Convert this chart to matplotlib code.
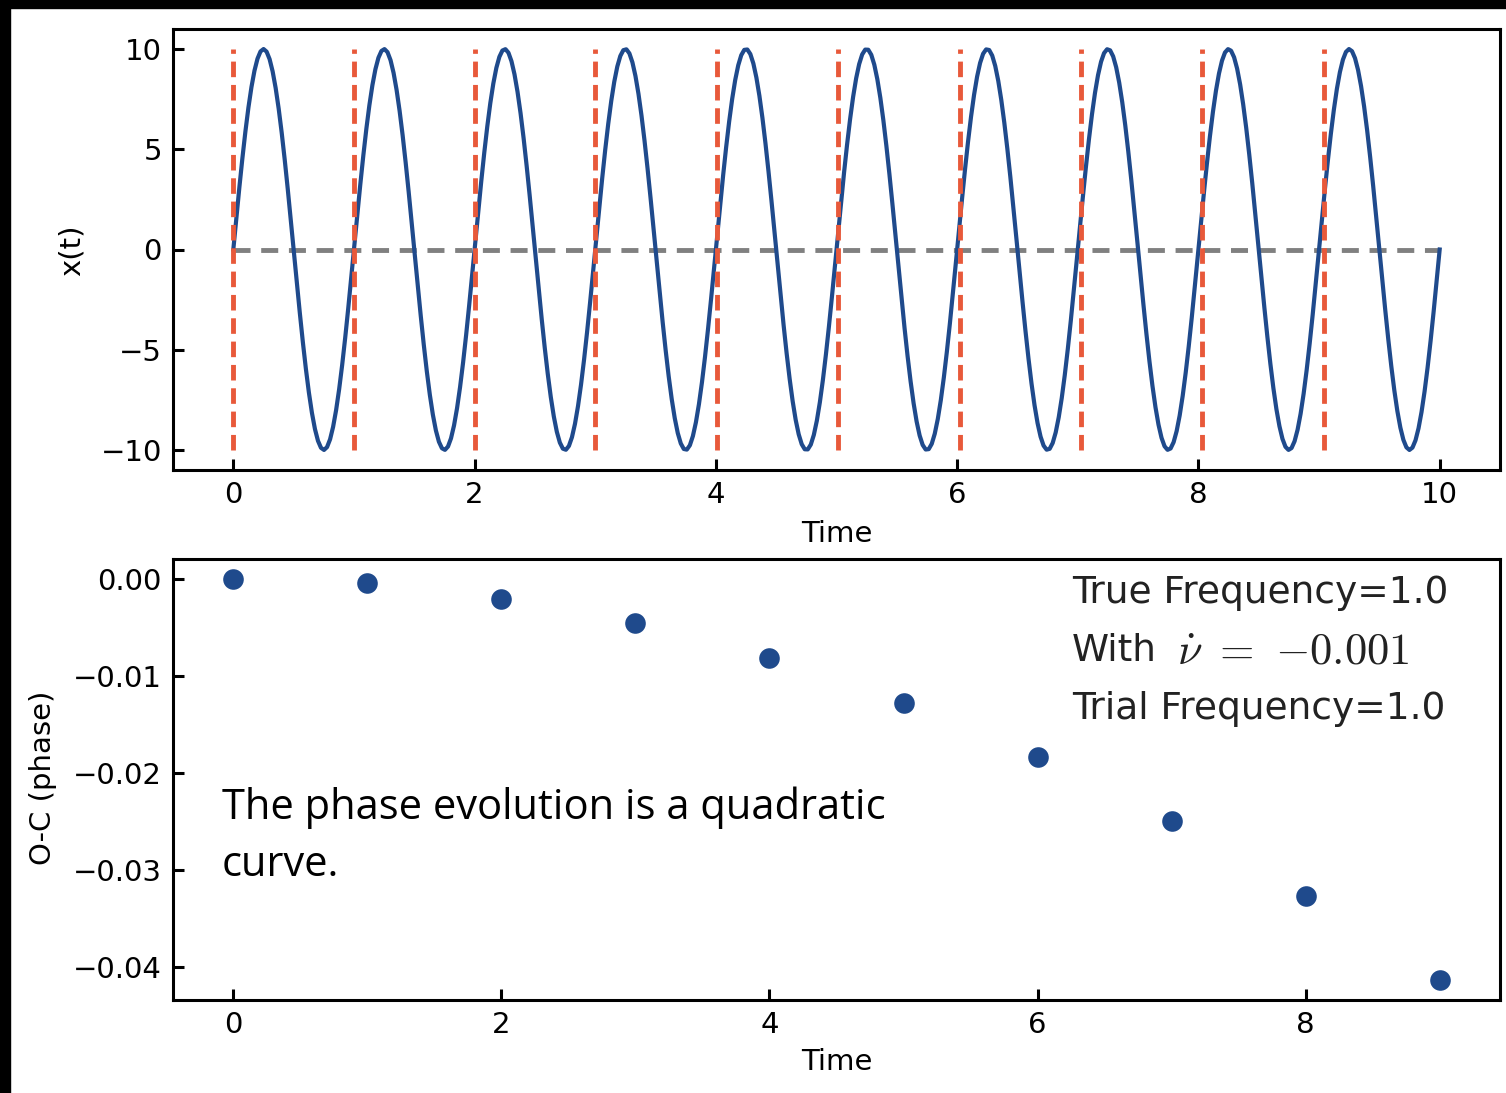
import numpy as np
import matplotlib
matplotlib.use("Agg")
import matplotlib.pyplot as plt
from matplotlib.patches import Rectangle

# ---- data ----
amplitude = 10.0
trial_freq = 1.0
t_start, t_end, n_samples = 0.0, 10.0, 400
crossing_times = [0.0, 1.0, 2.0, 3.0, 4.01, 5.01, 6.02, 7.03, 8.03, 9.04]
cycle_index = [0, 1, 2, 3, 4, 5, 6, 7, 8, 9]
oc_phase = [0.0, -0.00044, -0.00206, -0.00457, -0.00812, -0.01275,
            -0.01832, -0.02495, -0.03265, -0.04134]
top_xticks = [0, 2, 4, 6, 8, 10]
top_yticks = [-10, -5, 0, 5, 10]
bot_xticks = [0, 2, 4, 6, 8]
bot_yticks = [0.0, -0.01, -0.02, -0.03, -0.04]
bot_yticklabels = ["0.00", "\u22120.01", "\u22120.02", "\u22120.03", "\u22120.04"]

t = np.linspace(t_start, t_end, n_samples)
signal = amplitude * np.sin(2 * np.pi * trial_freq * t)

BLUE = "#1f4a8c"
RED = "#e8593a"
GRAY = "#808080"

plt.rcParams["font.family"] = ["DejaVu Sans"]
plt.rcParams["mathtext.fontset"] = "cm"

W, H = 1506, 1093
fig = plt.figure(figsize=(W / 100, H / 100), dpi=100)
fig.patch.set_facecolor("white")

def px_axes(x0, y0, x1, y1):
    return fig.add_axes([x0 / W, 1 - y1 / H, (x1 - x0) / W, (y1 - y0) / H])

FS = 21

ax1 = px_axes(173, 29, 1500, 470)
ax1.plot(t, signal, color=BLUE, lw=3.0, zorder=3)
ax1.plot([t_start, t_end], [0, 0], color=GRAY, lw=3.5, dashes=(3.5, 2.2), zorder=2)
for ct in crossing_times:
    ax1.plot([ct, ct], [-amplitude, amplitude], color=RED, lw=3.5,
             dashes=(3.2, 1.6), zorder=4)
ax1.set_xlim(-0.5, 10.5)
ax1.set_ylim(-11, 11)
ax1.set_xticks(top_xticks)
ax1.set_yticks(top_yticks)

ax2 = px_axes(173, 559, 1500, 1000)
ax2.scatter(cycle_index, oc_phase, s=220, color=BLUE, zorder=3, linewidths=0)
ax2.set_xlim(-0.45, 9.45)
ax2.set_ylim(-0.04341, 0.00207)
ax2.set_xticks(bot_xticks)
ax2.set_yticks(bot_yticks)
ax2.set_yticklabels(bot_yticklabels)

for ax in (ax1, ax2):
    for s in ax.spines.values():
        s.set_linewidth(2.2)
    ax.tick_params(direction="in", length=8, width=2.2, labelsize=FS, pad=8)

fig.text(837 / W, 1 - 534 / H, "Time", ha="center", va="center", fontsize=FS)
fig.text(837 / W, 1 - 1062 / H, "Time", ha="center", va="center", fontsize=FS)
fig.text(72 / W, 1 - 250 / H, "x(t)", ha="center", va="center", fontsize=FS, rotation=90)
fig.text(43 / W, 1 - 778 / H, "O-C (phase)", ha="center", va="center", fontsize=FS, rotation=90)

INFO_C = "#222222"
fig.text(1072 / W, 1 - 593 / H, "True Frequency=1.0", ha="left", va="center",
         fontsize=27, color=INFO_C)
fig.text(1072 / W, 1 - 651 / H, "With", ha="left", va="center",
         fontsize=27, color=INFO_C)
fig.text(1177 / W, 1 - 651 / H, r"$\dot{\nu}\ =\ {-}0.001$", ha="left",
         va="center", fontsize=32, color=INFO_C)
fig.text(1072 / W, 1 - 709 / H, "Trial Frequency=1.0", ha="left", va="center",
         fontsize=27, color=INFO_C)

fig.text(222 / W, 1 - 808 / H, "The phase evolution is a quadratic", ha="left",
         va="center", fontsize=30, family=["Open Sans", "DejaVu Sans"], color="black")
fig.text(222 / W, 1 - 865 / H, "curve.", ha="left", va="center", fontsize=30,
         family=["Open Sans", "DejaVu Sans"], color="black")

# black frame strips of the slide
fig.patches.append(Rectangle((0, 1 - 8 / H), 1, 8 / H, transform=fig.transFigure,
                             color="black", zorder=10))
fig.patches.append(Rectangle((0, 0), 10 / W, 1, transform=fig.transFigure,
                             color="black", zorder=10))

fig.savefig("out.png", dpi=100)
